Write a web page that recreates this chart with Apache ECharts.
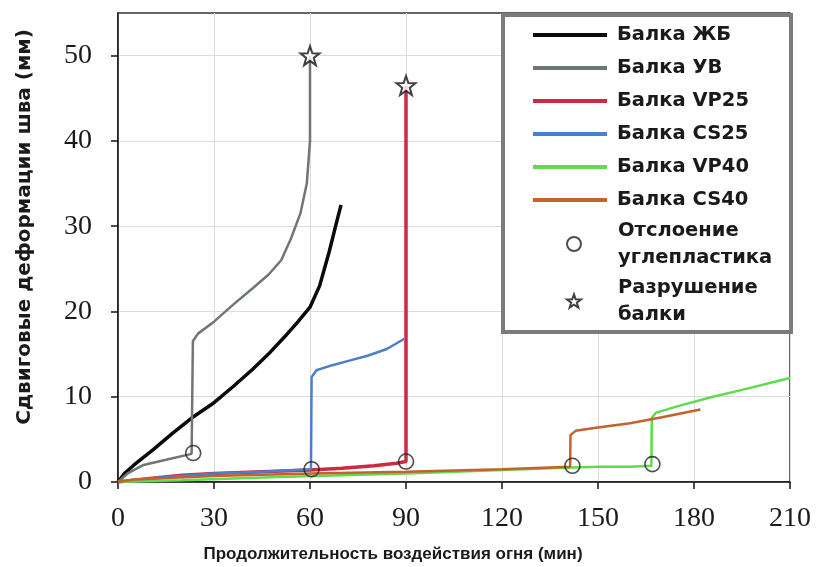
<!DOCTYPE html>
<html>
<head>
<meta charset="utf-8">
<script src="https://cdn.jsdelivr.net/npm/echarts@6/dist/echarts.min.js"></script>
<style>html,body{margin:0;padding:0;background:#fff;}#c{width:818px;height:567px;}</style>
</head>
<body>
<div id="c"></div>
<script>
// ---- data (time, min ; shear deformation, mm) ----
var xTicks = [0, 30, 60, 90, 120, 150, 180, 210];
var yTicks = [0, 10, 20, 30, 40, 50];

var seriesNames = ['Балка ЖБ', 'Балка УВ', 'Балка VP25', 'Балка CS25', 'Балка VP40', 'Балка CS40'];

var dataJB = [[0,0],[2,1],[5,2],[11,3.8],[17,5.7],[23,7.5],[30,9.3],[36,11.2],[42,13.2],[47,15],[52,17],[56,18.7],[60,20.5],[63,23],[66,27],[68,30],[69.7,32.5]];
var dataUV = [[0,0],[3,1],[8,2],[15,2.6],[23,3.3],[23.4,16.5],[25,17.4],[30,18.8],[36,20.8],[42,22.7],[47,24.3],[51,26],[54,28.5],[57,31.5],[59,35],[60,40],[60,50]];
var dataVP25 = [[0,0],[10,0.4],[20,0.8],[30,1.0],[45,1.2],[60,1.4],[70,1.6],[80,1.9],[87,2.2],[90,2.4],[90,46.5]];
var dataCS25 = [[0,0],[15,0.6],[30,1.0],[45,1.2],[60.3,1.5],[60.5,12.3],[62,13.1],[67,13.7],[72,14.2],[78,14.8],[84,15.6],[89.5,16.8]];
var dataVP40 = [[0,0],[20,0.2],[50,0.6],[90,1.0],[120,1.4],[142,1.7],[150,1.8],[160,1.8],[166.7,1.9],[166.8,7.5],[168,8.1],[175,8.9],[185,9.9],[195,10.8],[210,12.2]];
var dataCS40 = [[0,0],[5,0.3],[30,0.7],[60,1.0],[90,1.2],[120,1.5],[141.3,1.8],[141.4,5.5],[143,6.0],[150,6.4],[160,6.9],[170,7.6],[182,8.5]];

var debondPoints = [[23.5,3.4],[60.5,1.5],[90,2.4],[142,1.9],[167,2.1]];
var failurePoints = [[60,50],[90,46.5]];

var debondName = 'Отслоение\nуглепластика';
var failureName = 'Разрушение\nбалки';
var xTitle = 'Продолжительность воздействия огня (мин)';
var yTitle = 'Сдвиговые деформации шва (мм)';

var colors = ['#0a0a0a', '#6f7773', '#cc2a44', '#4a7fc9', '#5fdc4a', '#c4622e'];
var widths = [3.5, 2.5, 3.5, 2.5, 2.5, 2.5];
var allData = [dataJB, dataUV, dataVP25, dataCS25, dataVP40, dataCS40];

var starPath = 'path://M0,-10 L2.35,-3.24 L9.51,-3.09 L3.8,1.24 L5.88,8.09 L0,4 L-5.88,8.09 L-3.8,1.24 L-9.51,-3.09 L-2.35,-3.24 Z';

var series = seriesNames.map(function (n, i) {
  return {
    name: n, type: 'line', data: allData[i], showSymbol: false, symbol: 'none',
    color: colors[i],
    lineStyle: { color: colors[i], width: widths[i] },
    itemStyle: { color: colors[i] },
    z: 2 + i * 0.1
  };
});
series.push({
  name: debondName, type: 'scatter', data: debondPoints, symbol: 'circle', symbolSize: 15,
  itemStyle: { color: 'rgba(255,255,255,0)', borderColor: '#222', borderWidth: 1.6 }, z: 5
});
series.push({
  name: failureName, type: 'scatter', data: failurePoints, symbol: starPath, symbolSize: 19,
  itemStyle: { color: '#fff', borderColor: '#111', borderWidth: 2 }, z: 5
});

var chart = echarts.init(document.getElementById('c'), null, { renderer: 'canvas' });
var labelFont = { fontFamily: 'Liberation Serif', fontSize: 28, color: '#1a1a1a' };
var legendText = { fontFamily: 'DejaVu Sans', fontWeight: 'bold', fontSize: 19.5, color: '#1a1a1a' };

chart.setOption({
  animation: false,
  backgroundColor: '#fff',
  grid: { left: 118, right: 28, top: 13, bottom: 85, show: true, borderColor: '#333', borderWidth: 1.5, containLabel: false },
  xAxis: {
    type: 'value', min: 0, max: 210, interval: 30,
    axisLine: { lineStyle: { color: '#111', width: 1.5 } },
    axisTick: { show: true, length: 7, inside: false, lineStyle: { color: '#111', width: 1.5 } },
    axisLabel: Object.assign({ margin: 23, customValues: xTicks }, labelFont),
    splitLine: { show: true, lineStyle: { color: '#dcdcdc', width: 1 } }
  },
  yAxis: {
    type: 'value', min: 0, max: 55, interval: 10,
    axisLine: { lineStyle: { color: '#111', width: 1.5 } },
    axisTick: { show: true, length: 7, inside: false, customValues: yTicks, lineStyle: { color: '#111', width: 1.5 } },
    axisLabel: Object.assign({ margin: 26, customValues: yTicks }, labelFont),
    splitLine: { show: true, lineStyle: { color: '#dcdcdc', width: 1 } }
  },
  legend: [
    {
      data: seriesNames.map(function (n) { return { name: n, icon: 'rect' }; }),
      orient: 'vertical', left: 533, top: 24, padding: 0,
      itemWidth: 74, itemHeight: 4, itemGap: 11,
      textStyle: Object.assign({ lineHeight: 22, padding: [0, 0, 0, 5] }, legendText),
      selectedMode: false, z: 6
    },
    {
      data: [{ name: debondName, icon: 'circle' }, { name: failureName, icon: starPath }],
      orient: 'vertical', left: 566, top: 217, padding: 0,
      itemWidth: 14, itemHeight: 14, itemGap: 3,
      textStyle: Object.assign({ lineHeight: 27, padding: [0, 0, 0, 32] }, legendText),
      selectedMode: false, z: 6
    }
  ],
  graphic: [
    { type: 'rect', shape: { x: 503, y: 15, width: 288, height: 317 }, style: { fill: '#fff', stroke: '#7b7b7b', lineWidth: 4 }, z: 4 },
    { type: 'text', x: 393, y: 554, style: { text: xTitle, font: 'bold 17px "Liberation Sans"', fill: '#1a1a1a', textAlign: 'center', textVerticalAlign: 'middle' }, z: 5 },
    { type: 'text', x: 25, y: 227, rotation: Math.PI / 2, style: { text: yTitle, font: 'bold 20px "DejaVu Sans"', fill: '#1a1a1a', textAlign: 'center', textVerticalAlign: 'middle' }, z: 5 }
  ],
  series: series
});
</script>
</body>
</html>
